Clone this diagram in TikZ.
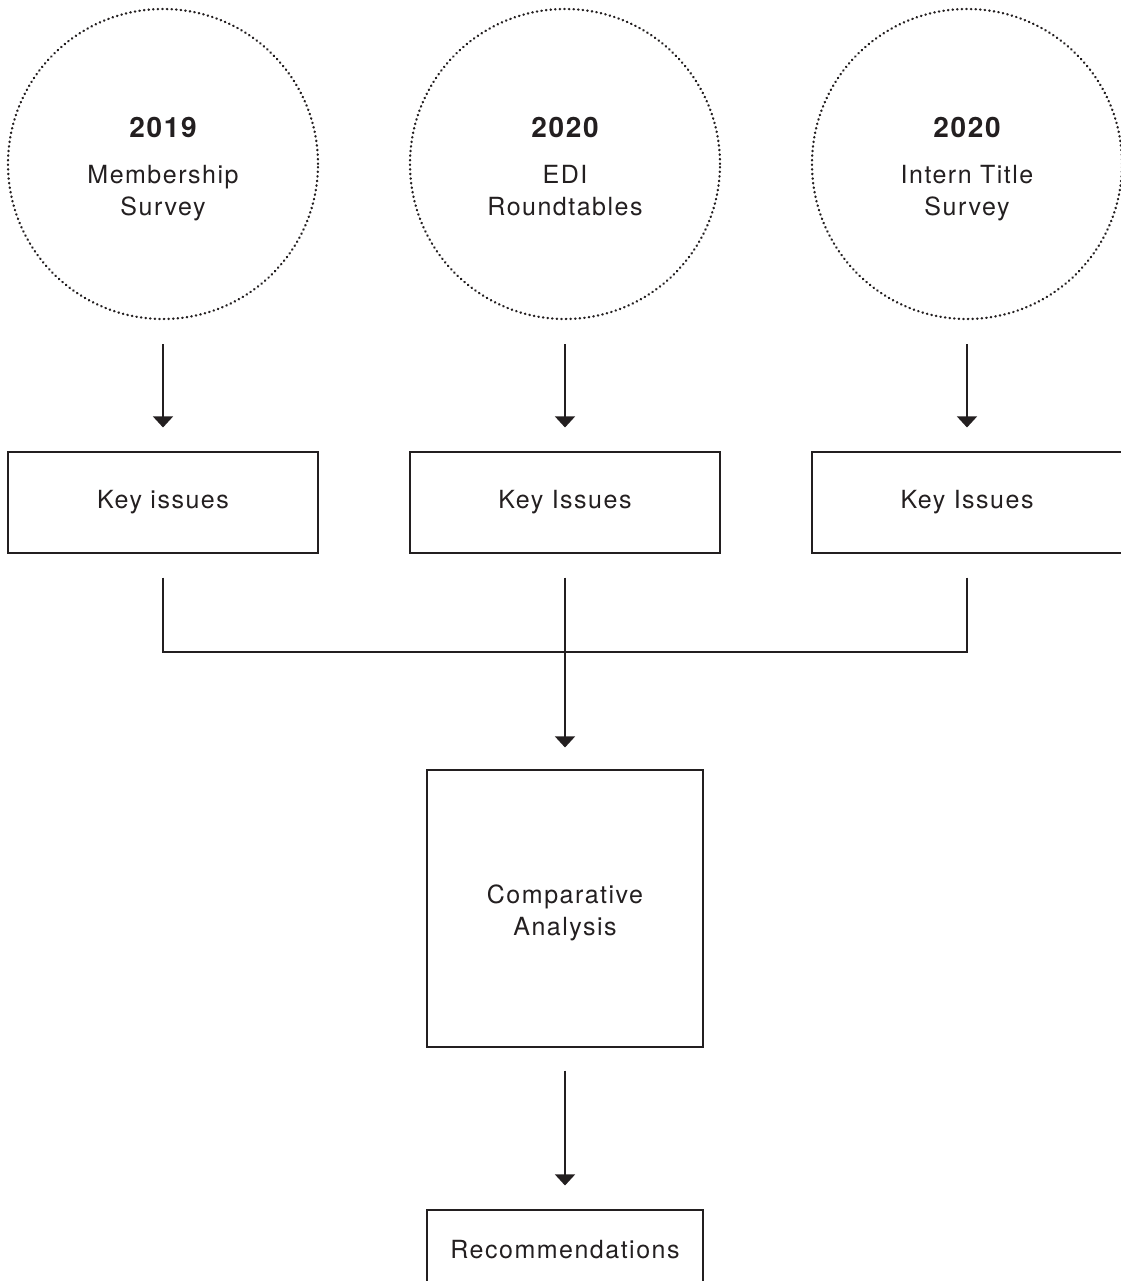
\documentclass[tikz,border=0pt]{standalone}
\usepackage{fontspec}
\setmainfont[LetterSpace=6]{TeX Gyre Heros}
\usetikzlibrary{arrows.meta}
\definecolor{ink}{HTML}{231F20}

\tikzset{
  source/.style={circle, draw=ink, line width=2.4pt, dash pattern=on 0.4pt off 4.2pt,
    line cap=round, minimum size=310pt, inner sep=0pt},
  sourcetext/.style={anchor=north, inner sep=0pt, align=center, text=ink,
    font=\fontsize{25}{32}\selectfont},
  issuebox/.style={rectangle, draw=ink, line width=1.1pt, minimum width=310pt,
    minimum height=101pt, text=ink, font=\fontsize{25}{32}\selectfont},
  resultbox/.style={rectangle, draw=ink, line width=1.1pt, minimum width=276pt,
    align=center, text=ink, font=\fontsize{25}{32}\selectfont},
  flow/.style={draw=ink, line width=1.1pt,
    -{Triangle[width=20pt,length=11pt]}},
  link/.style={draw=ink, line width=1.1pt}
}
\newcommand{\yr}[1]{{\fontsize{28}{34}\selectfont\bfseries #1}\\[14pt]}

\begin{document}
\begin{tikzpicture}[x=1pt,y=-1pt]
    \useasboundingbox (0,0) rectangle (1120,1281);

    % sources
    \node[source] (src1) at (163,164) {};
    \node[source] (src2) at (565,164) {};
    \node[source] (src3) at (967,164) {};
    \node[sourcetext] (lbl1) at (163,117) {\yr{2019}Membership\\Survey};
    \node[sourcetext] (lbl2) at (565,117) {\yr{2020}EDI\\Roundtables};
    \node[sourcetext] (lbl3) at (967,117) {\yr{2020}Intern Title\\Survey};

    % key issues
    \node[issuebox] (key1) at (163,502.5) {Key issues};
    \node[issuebox] (key2) at (565,502.5) {Key Issues};
    \node[issuebox] (key3) at (967,502.5) {Key Issues};

    \draw[flow,shorten <=24pt,shorten >=24pt] (src1) -- (key1);
    \draw[flow,shorten <=24pt,shorten >=24pt] (src2) -- (key2);
    \draw[flow,shorten <=24pt,shorten >=24pt] (src3) -- (key3);

    % comparison
    \node[resultbox, minimum height=277pt] (comp) at (565,908.5) {};
    \node[sourcetext] (ctext) at (565,885) {Comparative\\Analysis};
    \coordinate (join) at (565,652);

    \draw[link,shorten <=24pt] (key1) |- (join);
    \draw[link,shorten <=24pt] (key3) |- (join);
    \draw[flow,shorten <=24pt,shorten >=22pt] (key2) -- (comp);

    % outcome
    \node[resultbox, minimum height=80pt] (reco) at (565,1250) {Recommendations};
    \draw[flow,shorten <=23pt,shorten >=24pt] (comp) -- (reco);
\end{tikzpicture}
\end{document}
